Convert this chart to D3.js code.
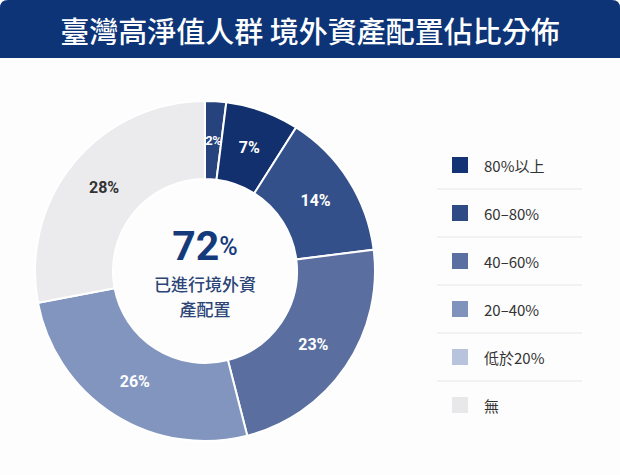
<!DOCTYPE html>
<html><head><meta charset="utf-8">
<script src="https://cdn.jsdelivr.net/npm/d3@7"></script>
<style>
html,body{margin:0;padding:0;background:#fdfdfd;}
svg{display:block;}
</style></head>
<body>
<svg id="c" width="620" height="475"></svg>
<script>
const title = "臺灣高淨值人群 境外資產配置佔比分佈";
const segmentValues = [2, 7, 14, 23, 26, 28];
const segmentLabels = ["2%", "7%", "14%", "23%", "26%", "28%"];
const segmentColors = ["#26437e", "#11306d", "#34508a", "#5a6fa0", "#8195bf", "#ebebee"];
const segmentTextColors = ["#fff", "#fff", "#fff", "#fff", "#fff", "#333"];
const legendLabels = ["80%以上", "60–80%", "40–60%", "20–40%", "低於20%", "無"];
const legendColors = ["#143374", "#2e4b86", "#5a70a2", "#7f93bd", "#b8c4de", "#e8e8ea"];
const centerValue = "72";
const centerLines = ["已進行境外資", "產配置"];

const svg = d3.select("#c");
const W = 620, H = 475;
const font = "'Noto Sans CJK TC','Noto Sans',sans-serif";
const numFont = "Roboto,'Noto Sans CJK TC',sans-serif";

// title bar
svg.append("path")
  .attr("d", `M0,58 L0,8 Q0,0 8,0 L${W-8},0 Q${W},0 ${W},8 L${W},58 Z`)
  .attr("fill", "#0d3477");
svg.append("text").attr("x", W/2).attr("y", 30).attr("text-anchor", "middle")
  .attr("dominant-baseline", "central").attr("fill", "#fff")
  .attr("font-family", font).attr("font-weight", 500).attr("font-size", 29)
  .text(title);

// donut
const cx = 205, cy = 271, rOut = 170, rIn = 92;
const g = svg.append("g").attr("transform", `translate(${cx},${cy})`);
const pie = d3.pie().sort(null).value(d => d).startAngle(0).endAngle(2*Math.PI);
const arcs = pie(segmentValues);
const arc = d3.arc().innerRadius(rIn).outerRadius(rOut);
const labelArc = d3.arc().innerRadius(131).outerRadius(131);
g.selectAll("path.seg").data(arcs).join("path").attr("class", "seg")
  .attr("d", arc).attr("fill", (d, i) => segmentColors[i])
  .attr("stroke", "#fff").attr("stroke-width", 2);
g.selectAll("text.lbl").data(arcs).join("text").attr("class", "lbl")
  .attr("transform", d => `translate(${labelArc.centroid(d)})`)
  .attr("text-anchor", "middle").attr("dominant-baseline", "central")
  .attr("font-family", numFont).attr("font-weight", 700)
  .attr("font-size", (d, i) => segmentValues[i] < 5 ? 13 : 16)
  .attr("letter-spacing", (d, i) => segmentValues[i] < 5 ? -0.5 : 0)
  .attr("fill", (d, i) => segmentTextColors[i])
  .text((d, i) => segmentLabels[i]);

// center text
const ct = g.append("text").attr("x", 0).attr("y", -25).attr("text-anchor", "middle")
  .attr("dominant-baseline", "central").attr("fill", "#153a7c")
  .attr("font-family", numFont).attr("font-weight", 700);
ct.append("tspan").attr("font-size", 41).text(centerValue);
ct.append("tspan").attr("font-size", 25).attr("font-weight", 500).text("%");
centerLines.forEach((t, i) => {
  g.append("text").attr("x", 0).attr("y", 12 + i * 25).attr("text-anchor", "middle")
    .attr("dominant-baseline", "central").attr("fill", "#2c4576")
    .attr("font-family", font).attr("font-weight", 500).attr("font-size", 17)
    .text(t);
});

// legend
const ly = d3.scaleBand().domain(legendLabels).range([141, 429]);
const lg = svg.append("g");
legendLabels.forEach((lab, i) => {
  const y = ly(lab) + ly.bandwidth()/2;
  lg.append("rect").attr("x", 452).attr("y", y - 8).attr("width", 16).attr("height", 16)
    .attr("fill", legendColors[i]);
  lg.append("text").attr("x", 484).attr("y", y).attr("dominant-baseline", "central")
    .attr("font-family", font).attr("font-size", 15).attr("fill", "#333").text(lab);
  if (i < legendLabels.length - 1) {
    lg.append("line").attr("x1", 437).attr("x2", 582)
      .attr("y1", ly(lab) + ly.bandwidth()).attr("y2", ly(lab) + ly.bandwidth())
      .attr("stroke", "#e6e6e6").attr("stroke-width", 1);
  }
});
</script>
</body></html>
